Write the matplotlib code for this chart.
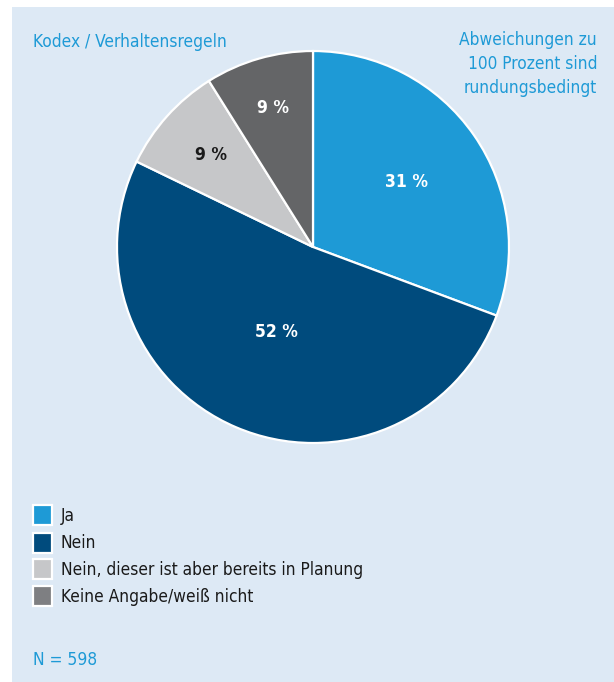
import matplotlib
matplotlib.use("Agg")
import matplotlib.pyplot as plt
import matplotlib.patches as patches
import numpy as np

labels = ["Ja", "Nein", "Nein, dieser ist aber bereits in Planung", "Keine Angabe/weiß nicht"]
values = [31, 52, 9, 9]
pct_labels = ["31 %", "52 %", "9 %", "9 %"]
pie_colors = ["#1e9ad6", "#004b7d", "#c6c7c9", "#646567"]
legend_colors = ["#1e9ad6", "#004b7d", "#c6c7c9", "#7e7f82"]
pct_text_colors = ["white", "white", "#1a1a1a", "white"]

title = "Kodex / Verhaltensregeln"
note = "Abweichungen zu\n100 Prozent sind\nrundungsbedingt"
n_text = "N = 598"

W, H = 614, 682
BG = "#dde9f5"
BLUE = "#1e9ad6"
FS = 12.4
plt.rcParams['font.family'] = ['DejaVu Sans']
plt.rcParams['font.stretch'] = 'condensed'


def fx(x):
    return x / W


def fy(y):
    return 1 - y / H


fig = plt.figure(figsize=(W / 100, H / 100), dpi=100)
fig.patch.set_facecolor("white")

# light blue panel
fig.patches.append(patches.Rectangle((fx(12), 0), 1 - fx(12), fy(7), transform=fig.transFigure,
                                     facecolor=BG, edgecolor="none", zorder=-5))

# pie
cx, cy, r = 313, 247, 196
ax = fig.add_axes([fx(cx - r), fy(cy + r), 2 * r / W, 2 * r / H])
ax.set_zorder(2)
ax.set_facecolor("none")
wedges, _ = ax.pie(values, colors=pie_colors, startangle=90, counterclock=False, radius=1,
                   wedgeprops=dict(edgecolor="white", linewidth=1.6))
ax.set_xlim(-1, 1)
ax.set_ylim(-1, 1)
ax.set_aspect("equal")
ax.axis("off")

# percentage labels, distance from centre as fraction of radius
label_dist = [0.58, 0.47, 0.70, 0.74]
for w, txt, d, c in zip(wedges, pct_labels, label_dist, pct_text_colors):
    ang = np.deg2rad((w.theta1 + w.theta2) / 2)
    ax.text(d * np.cos(ang), d * np.sin(ang), txt, ha="center", va="center",
            fontsize=12.5, fontweight="bold", color=c)

# titles
fig.text(fx(33), fy(47), title, color=BLUE, fontsize=FS, ha="left", va="baseline")
fig.text(fx(597), fy(64), note, color=BLUE, fontsize=FS, ha="right", va="center",
         linespacing=1.4)

# legend
row_y = [515, 542.5, 569, 596]
for lab, col, y in zip(labels, legend_colors, row_y):
    fig.patches.append(patches.Rectangle((fx(33), fy(y + 10)), 19 / W, 20 / H, transform=fig.transFigure,
                                         facecolor=col, edgecolor="white", linewidth=1.6, zorder=2))
    fig.text(fx(61), fy(y + 6), lab, color="#1a1a1a", fontsize=FS, ha="left", va="baseline")

fig.text(fx(33), fy(665), n_text, color=BLUE, fontsize=FS, ha="left", va="baseline")

fig.savefig("out.png", dpi=100, facecolor=fig.get_facecolor())
